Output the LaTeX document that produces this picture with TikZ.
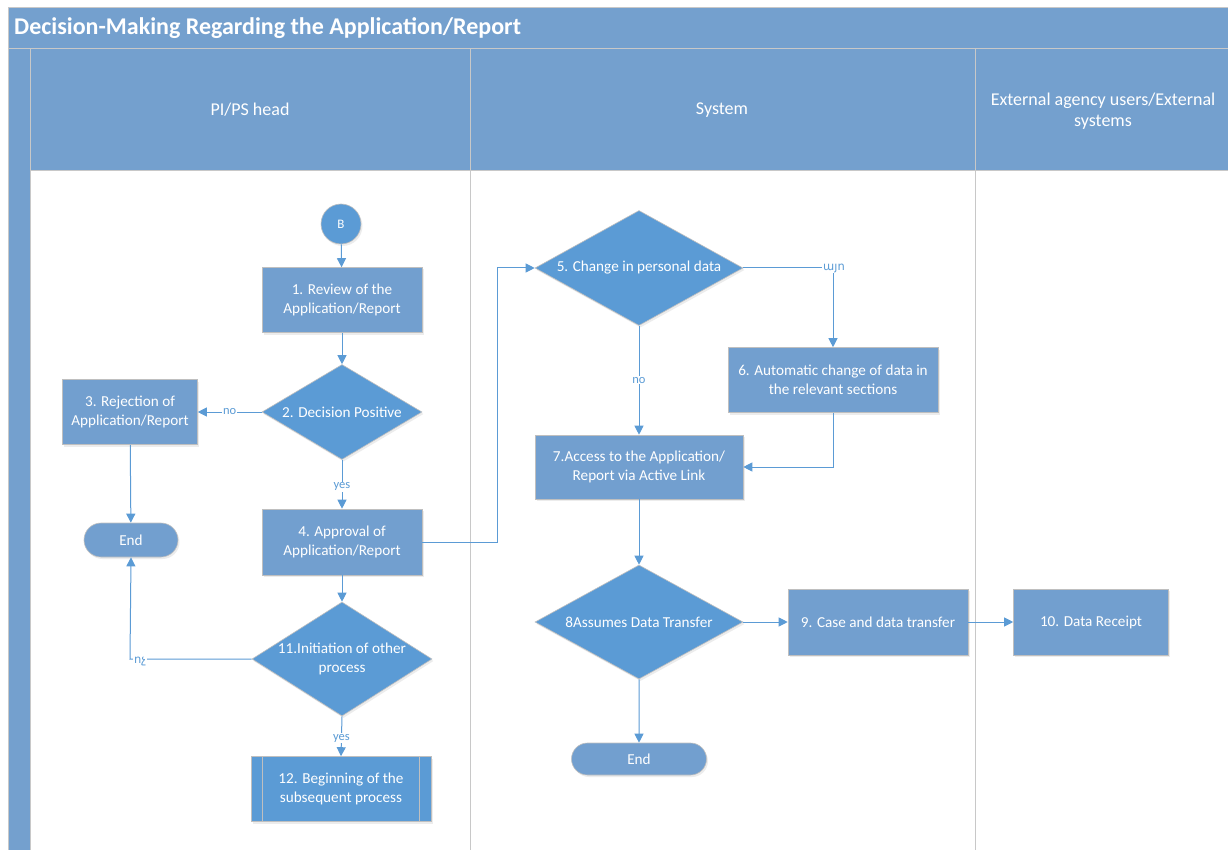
\documentclass[tikz,border=0pt]{standalone}
\usepackage{fontspec}
\setmainfont{Carlito}
\newfontfamily\armfont{DejaVu Sans}
\usetikzlibrary{shapes.geometric,shapes.misc,arrows.meta,shadows}
\definecolor{hdr}{HTML}{74A0CE}
\definecolor{boxc}{HTML}{729FCF}
\definecolor{decc}{HTML}{5B9BD5}
\definecolor{linec}{HTML}{5B9BD5}
\definecolor{edgec}{HTML}{BFBFBF}
\definecolor{lanel}{HTML}{C8C8C8}
\begin{document}
\begin{tikzpicture}[x=1pt,y=-1pt,
  txt/.style={text=white,font=\fontsize{15.2}{19}\selectfont,align=center},
  shd/.style={drop shadow={shadow xshift=1.5pt,shadow yshift=-2pt,opacity=0.15}},
  proc/.style={rectangle,fill=boxc,draw=edgec,line width=0.6pt,txt,inner sep=0pt,shd},
  dec/.style={diamond,fill=decc,draw=edgec,line width=0.6pt,inner sep=0pt,shd},
  dtext/.style={txt},
  term/.style={rounded rectangle,fill=boxc,draw=edgec,line width=0.6pt,txt,inner sep=0pt,shd},
  conn/.style={circle,fill=decc,draw=edgec,line width=0.6pt,txt,font=\fontsize{13}{15}\selectfont,minimum size=40pt,inner sep=0pt,shd},
  arr/.style={draw=linec,line width=1pt,-{Triangle[length=9pt,width=9pt]}},
  lbl/.style={fill=white,text=linec,font=\fontsize{12.5}{13}\selectfont,inner sep=1pt},
  albl/.style={fill=white,text=linec,font=\armfont\fontsize{11.5}{13}\selectfont,inner sep=1pt},
  hdrtxt/.style={text=white,font=\fontsize{18}{21}\selectfont,align=center}
]
\useasboundingbox (0,0) rectangle (1228,850);
% pool
\fill[white] (0,0) rectangle (1228,850);
\draw[fill=hdr,draw=lanel] (8,7) rectangle (1240,48);
\node[anchor=west,text=white,inner sep=4pt,font=\bfseries\fontsize{24}{26}\selectfont] (title) at (10,28) {Decision-Making Regarding the Application/Report};
\draw[fill=hdr,draw=lanel] (8,48) rectangle (30,860);
\draw[fill=hdr,draw=lanel] (30,48) rectangle (470,170);
\draw[fill=hdr,draw=lanel] (470,48) rectangle (975,170);
\draw[fill=hdr,draw=lanel] (975,48) rectangle (1240,170);
\draw[lanel,line width=1pt] (470,170) -- (470,860);
\draw[lanel,line width=1pt] (975,170) -- (975,860);
\node[hdrtxt] (h1) at (250,110) {PI/PS head};
\node[hdrtxt] (h2) at (722,110) {System};
\node[hdrtxt] (h3) at (1103,111) {External agency users/External\\systems};
% nodes
\node[conn] (B) at (341,224) {B};
\node[proc,minimum width=160pt,minimum height=65pt] (n1) at (342,300) {1. Review of the\\Application/Report};
\node[dec,minimum width=160pt,minimum height=95pt,label={[dtext]center:2. Decision Positive}] (n2) at (342,412) {};
\node[proc,minimum width=135pt,minimum height=65pt] (n3) at (130,412) {3. Rejection of\\Application/Report};
\node[term,minimum width=94pt,minimum height=34pt] (e1) at (131,540) {End};
\node[proc,minimum width=160pt,minimum height=66pt] (n4) at (342,542) {4. Approval of\\Application/Report};
\node[dec,minimum width=180pt,minimum height=114pt,label={[dtext]center:11.Initiation of other\\process}] (n11) at (342,659) {};
\node[rectangle,fill=decc,draw=edgec,line width=0.6pt,txt,inner sep=0pt,shd,minimum width=180pt,minimum height=65pt] (n12) at (341,789) {12. Beginning of the\\subsequent process};
\draw[edgec,line width=0.8pt] ([xshift=12pt]n12.north west) -- ([xshift=12pt]n12.south west);
\draw[edgec,line width=0.8pt] ([xshift=-12pt]n12.north east) -- ([xshift=-12pt]n12.south east);
\node[dec,minimum width=208pt,minimum height=115pt,label={[dtext]center:5. Change in personal data}] (n5) at (639,268) {};
\node[proc,minimum width=210pt,minimum height=65pt] (n6) at (833,380) {6. Automatic change of data in\\the relevant sections};
\node[proc,minimum width=208pt,minimum height=64pt] (n7) at (639,467) {7.Access to the Application/\\Report via Active Link};
\node[dec,minimum width=208pt,minimum height=114pt,label={[dtext]center:8Assumes Data Transfer}] (n8) at (639,622) {};
\node[term,minimum width=135pt,minimum height=32pt] (e2) at (639,759) {End};
\node[proc,minimum width=180pt,minimum height=66pt] (n9) at (878,622) {9. Case and data transfer};
\node[proc,minimum width=155pt,minimum height=66pt] (n10) at (1091,622) {10. Data Receipt};
% connectors
\coordinate (c4) at (497,542);
\coordinate (c5) at (497,268);
\coordinate (c56) at (833,268);
\coordinate (c67) at (833,467);
\coordinate (c11) at (130,659);
\draw[arr] (B) -- (n1);
\draw[arr] (n1) -- (n2);
\draw[arr] (n2.west) -- node[lbl] (lno1) {no} (n3.east);
\draw[arr] (n2.south) -- node[lbl,pos=0.55] (lyes1) {yes} (n4.north);
\draw[arr] (n3) -- (e1);
\draw[arr] (n4.east) -- (c4) -- (c5) -- (n5.west);
\draw[arr] (n5.east) -- (c56) -- (n6.north);
\node[albl] (lyo) at (834,268) {այո};
\draw[arr] (n5.south) -- node[lbl,pos=0.5] (lno2) {no} (n7.north);
\draw[arr] (n6.south) -- (c67) -- (n7.east);
\draw[arr] (n7) -- (n8.north);
\draw[arr] (n8.east) -- (n9.west);
\draw[arr] (n9) -- (n10);
\draw[arr] (n8.south) -- (e2);
\draw[arr] (n4) -- (n11.north);
\draw[arr] (n11.west) -- (c11) -- (e1.south);
\node[albl] (lno3) at (140,661) {ոչ};
\draw[arr] (n11.south) -- node[lbl,pos=0.55] (lyes2) {yes} (n12.north);
\end{tikzpicture}
\end{document}
